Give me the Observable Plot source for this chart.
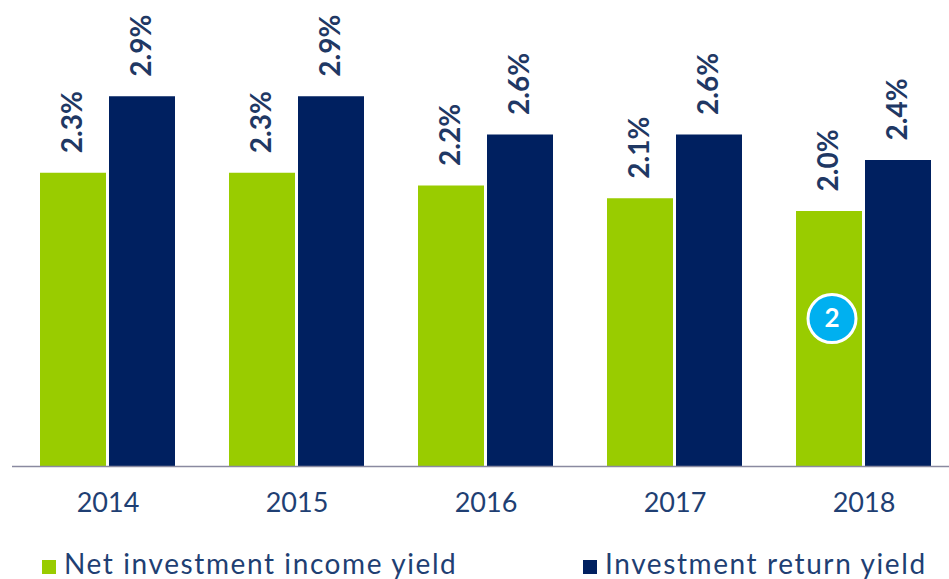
<!DOCTYPE html>
<html>
<head>
<meta charset="utf-8">
<script src="https://cdn.jsdelivr.net/npm/d3@7"></script>
<script src="https://cdn.jsdelivr.net/npm/@observablehq/plot@0.6"></script>
<style>
  html, body { margin: 0; padding: 0; background: #fff; overflow: hidden; }
  #wrap { position: relative; width: 949px; height: 579px; }
  #legend { position: relative; width: 949px; height: 49px; font-family: Lato, sans-serif; }
  .item { position: absolute; top: 19px; font-size: 28px; line-height: 28px; letter-spacing: 1.6px; color: #1f3f73; white-space: nowrap; }
  .sw { position: absolute; width: 14px; height: 14px; }
</style>
</head>
<body>
<div id="wrap"></div>
<script>
const years = ["2014", "2015", "2016", "2017", "2018"];
const netInvestmentIncomeYield = [2.3, 2.3, 2.2, 2.1, 2.0];
const investmentReturnYield = [2.9, 2.9, 2.6, 2.6, 2.4];
const seriesNames = ["Net investment income yield", "Investment return yield"];
const seriesColors = ["#99cc00", "#002060"];
const annotation = [{year: "2018", y: 1.16, label: "2"}];

const netData = years.map((year, i) => ({year, value: netInvestmentIncomeYield[i]}));
const retData = years.map((year, i) => ({year, value: investmentReturnYield[i]}));
const fmt = d => d3.format(".1f")(d.value) + "%";
const labelColor = "#1f3864";

const chart = Plot.plot({
  width: 949,
  height: 530,
  marginLeft: 12,
  marginRight: 0,
  marginTop: 0,
  marginBottom: 64,
  style: {fontFamily: "Lato, sans-serif", background: "#fff"},
  x: {domain: years, range: [12.5, 957.5], padding: 0},
  y: {domain: [0, 466 / 127.5], axis: null},
  marks: [
    Plot.barY(netData, {x: "year", y: "value", fill: seriesColors[0], insetLeft: 27, insetRight: 96}),
    Plot.barY(retData, {x: "year", y: "value", fill: seriesColors[1], insetLeft: 96, insetRight: 27}),
    Plot.ruleY([0], {stroke: "#8a8aa0", strokeWidth: 1.5}),
    Plot.text(netData, {x: "year", y: "value", text: fmt, rotate: -90, textAnchor: "start", dx: -34.5, dy: -20, fontSize: 28, fontWeight: 700, fill: labelColor}),
    Plot.text(retData, {x: "year", y: "value", text: fmt, rotate: -90, textAnchor: "start", dx: 34.5, dy: -20, fontSize: 28, fontWeight: 700, fill: labelColor}),
    Plot.dot(annotation, {x: "year", y: "y", r: 24, fill: "#00b0f0", stroke: "#fff", strokeWidth: 3, dx: -32}),
    Plot.text(annotation, {x: "year", y: "y", text: "label", dx: -32, fontSize: 26, fontWeight: 700, fill: "#fff"}),
    Plot.axisX({tickSize: 0, tickPadding: 26, fontSize: 27, color: "#1f3f73", label: null})
  ]
});

const wrap = document.getElementById("wrap");
wrap.appendChild(chart);

const legend = document.createElement("div");
legend.id = "legend";
const legendX = [{sw: 42, text: 64}, {sw: 583, text: 605}];
seriesNames.forEach((name, i) => {
  const sw = document.createElement("div");
  sw.className = "sw";
  sw.style.left = legendX[i].sw + "px";
  sw.style.top = "30px";
  sw.style.background = seriesColors[i];
  legend.appendChild(sw);
  const t = document.createElement("div");
  t.className = "item";
  t.style.left = legendX[i].text + "px";
  t.textContent = name;
  legend.appendChild(t);
});
wrap.appendChild(legend);
</script>
</body>
</html>
